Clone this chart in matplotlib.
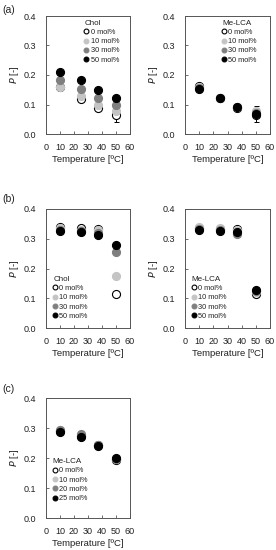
import matplotlib
matplotlib.use("Agg")
import matplotlib.pyplot as plt
import numpy as np

plt.rcParams['font.family'] = ['Liberation Sans', 'DejaVu Sans']

temps = [10, 25, 37, 50]

# Panel (a) Chol
a_chol_labels = ["0 mol%", "10 mol%", "30 mol%", "50 mol%"]
a_chol_0 = [0.160, 0.120, 0.087, 0.065]
a_chol_10 = [0.160, 0.128, 0.100, 0.078]
a_chol_30 = [0.184, 0.154, 0.123, 0.100]
a_chol_50 = [0.210, 0.184, 0.149, 0.123]
a_chol_err = [[0, 0, 0, 0.023], [0, 0, 0, 0], [0, 0, 0, 0], [0, 0, 0, 0]]

# Panel (a) Me-LCA
a_lca_labels = ["0 mol%", "10 mol%", "30 mol%", "50 mol%"]
a_lca_0 = [0.163, 0.122, 0.087, 0.065]
a_lca_10 = [0.160, 0.122, 0.090, 0.078]
a_lca_30 = [0.157, 0.122, 0.093, 0.072]
a_lca_50 = [0.153, 0.121, 0.092, 0.068]
a_lca_err = [[0, 0, 0, 0.023], [0, 0, 0, 0.017], [0, 0, 0, 0], [0, 0, 0, 0]]

# Panel (b) Chol
b_chol_labels = ["0 mol%", "10 mol%", "30 mol%", "50 mol%"]
b_chol_0 = [0.339, 0.335, 0.334, 0.114]
b_chol_10 = [0.335, 0.331, 0.330, 0.176]
b_chol_30 = [0.330, 0.327, 0.318, 0.256]
b_chol_50 = [0.325, 0.322, 0.311, 0.278]

# Panel (b) Me-LCA
b_lca_labels = ["0 mol%", "10 mol%", "30 mol%", "50 mol%"]
b_lca_0 = [0.335, 0.333, 0.333, 0.113]
b_lca_10 = [0.338, 0.335, 0.328, 0.120]
b_lca_30 = [0.332, 0.330, 0.315, 0.125]
b_lca_50 = [0.328, 0.327, 0.323, 0.127]

# Panel (c) Me-LCA
c_lca_labels = ["0 mol%", "10 mol%", "20 mol%", "25 mol%"]
c_lca_0 = [0.290, 0.273, 0.242, 0.193]
c_lca_10 = [0.292, 0.276, 0.243, 0.196]
c_lca_20 = [0.295, 0.279, 0.244, 0.198]
c_lca_25 = [0.286, 0.270, 0.240, 0.200]

face_colors = ["white", "#c4c4c4", "#7f7f7f", "black"]
edge_colors = ["black", "#c4c4c4", "#7f7f7f", "black"]
axis_col = "#555555"
text_col = "#222222"

W, H = 276, 550
fig = plt.figure(figsize=(W / 100, H / 100), dpi=100)


def make_ax(left, top, right, bottom):
    return fig.add_axes([left / W, 1 - bottom / H, (right - left) / W, (bottom - top) / H])


def draw(ax, series, labels, title, leg_xy, errs=None):
    for i, (vals, lab) in enumerate(zip(series, labels)):
        if errs is not None and any(e > 0 for e in errs[i]):
            ax.errorbar(temps, vals, yerr=errs[i], fmt='none', ecolor='black',
                        elinewidth=0.7, capsize=1.8, capthick=0.7, zorder=1)
        ax.plot(temps, vals, 'o', ms=5.8, mfc=face_colors[i], mec=edge_colors[i],
                mew=0.8, label=lab, zorder=2 + i)
    ax.set_xlim(0, 60)
    ax.set_ylim(0, 0.4)
    ax.set_xticks(np.arange(0, 61, 10))
    ax.set_yticks(np.arange(0, 0.41, 0.1))
    ax.set_yticklabels([f"{v:.1f}" for v in np.arange(0, 0.41, 0.1)])
    ax.tick_params(direction='in', length=2, width=0.6, colors=axis_col,
                   labelsize=6.5, labelcolor=text_col)
    ax.tick_params(axis='y', pad=7)
    ax.tick_params(axis='x', pad=6.5)
    for s in ax.spines.values():
        s.set_color(axis_col)
        s.set_linewidth(0.7)
    ax.set_xlabel("Temperature [ºC]", fontsize=6.8, color=text_col, labelpad=2.5)
    ax.set_ylabel("$\\it{P}$ [-]", fontsize=6.8, color=text_col, labelpad=2)
    leg = ax.legend(title=title, loc='upper left', bbox_to_anchor=leg_xy,
                    frameon=False, fontsize=5.3, title_fontsize=5.8,
                    handlelength=0.5, handletextpad=0.3, labelspacing=0.3,
                    borderpad=0, borderaxespad=0, markerscale=0.6)
    leg._legend_box.align = "left"
    leg._legend_box.sep = 1.5
    for t in leg.get_texts():
        t.set_color(text_col)
    leg.get_title().set_color(text_col)


ax1 = make_ax(46, 16, 130, 134)
draw(ax1, [a_chol_0, a_chol_10, a_chol_30, a_chol_50], a_chol_labels, "Chol",
     (0.46, 0.97), a_chol_err)
ax2 = make_ax(185, 16, 270, 134)
draw(ax2, [a_lca_0, a_lca_10, a_lca_30, a_lca_50], a_lca_labels, "Me-LCA",
     (0.44, 0.97), a_lca_err)
ax3 = make_ax(46, 209, 130, 328)
draw(ax3, [b_chol_0, b_chol_10, b_chol_30, b_chol_50], b_chol_labels, "Chol",
     (0.09, 0.44))
ax4 = make_ax(185, 209, 270, 328)
draw(ax4, [b_lca_0, b_lca_10, b_lca_30, b_lca_50], b_lca_labels, "Me-LCA",
     (0.08, 0.44))
ax5 = make_ax(46, 398, 130, 518)
draw(ax5, [c_lca_0, c_lca_10, c_lca_20, c_lca_25], c_lca_labels, "Me-LCA",
     (0.08, 0.5))

fig.text(2 / W, 1 - 13 / H, "(a)", fontsize=7.5, color=text_col)
fig.text(2 / W, 1 - 202 / H, "(b)", fontsize=7.5, color=text_col)
fig.text(2 / W, 1 - 392 / H, "(c)", fontsize=7.5, color=text_col)

fig.savefig("out.png", dpi=100)
